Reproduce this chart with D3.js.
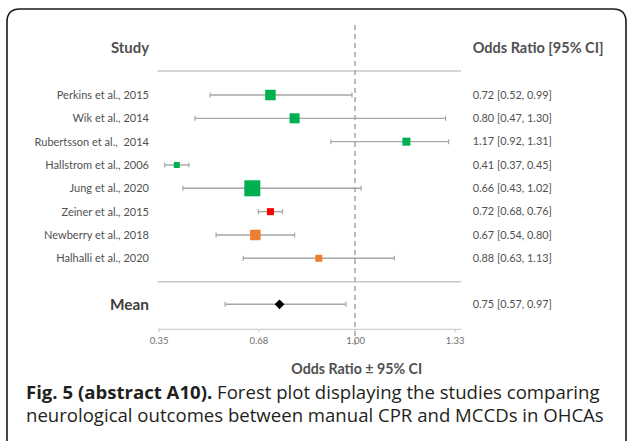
<!DOCTYPE html>
<html>
<head>
<meta charset="utf-8">
<script src="https://cdn.jsdelivr.net/npm/d3@7/dist/d3.min.js"></script>
<style>
  html, body { margin: 0; padding: 0; background: #fff; }
  svg { display: block; }
</style>
</head>
<body>
<svg id="chart" width="628" height="442"></svg>
<script>
// ---------------- data ----------------
const studies = ["Perkins et al., 2015", "Wik et al., 2014", "Rubertsson et al.,  2014",
  "Hallstrom et al., 2006", "Jung et al., 2020", "Zeiner et al., 2015",
  "Newberry et al., 2018", "Halhalli et al., 2020"];
const oddsRatio = [0.72, 0.80, 1.17, 0.41, 0.66, 0.72, 0.67, 0.88];
const ciLow     = [0.52, 0.47, 0.92, 0.37, 0.43, 0.68, 0.54, 0.63];
const ciHigh    = [0.99, 1.30, 1.31, 0.45, 1.02, 0.76, 0.80, 1.13];
const weights   = [10.5, 10, 8, 6, 16, 7, 10.5, 7];
const groups    = ["A", "A", "A", "A", "A", "B", "C", "C"];
const meanLabel = "Mean";
const meanOR = 0.75, meanLow = 0.57, meanHigh = 0.97;
const tickValues = [0.35, 0.68, 1.00, 1.33];
const tickLabels = ["0.35", "0.68", "1.00", "1.33"];

// ---------------- layout ----------------
const svg = d3.select("#chart");
const textCol = "#505050";
const lineCol = "#a6a6a6";
const chartFont = "Lato, 'Open Sans', sans-serif";
const captionFont = "'Open Sans', 'Noto Sans', sans-serif";

function fit(sel, target) {
  const node = sel.node();
  sel.attr("font-size", 10);
  const w = node.getComputedTextLength();
  sel.attr("font-size", 10 * target / w);
  return 10 * target / w;
}

// frame
svg.append("path")
  .attr("d", "M7,441 L7,22 Q7,9 20,9 L613,9 Q626,9 626,22 L626,441")
  .attr("fill", "none").attr("stroke", "#1a1a1a").attr("stroke-width", 1.6);

const x = d3.scaleLinear().domain([0.35, 1.33]).range([158.7, 454.7]);
const y = d3.scalePoint().domain(studies).range([95, 258.3]);
const yMean = 304.3;
const size = d3.scaleLinear().domain([0, 16]).range([0, 16]);
const color = d3.scaleOrdinal().domain(["A", "B", "C"]).range(["#00b050", "#ff0000", "#ed7d31"]);

// headers
const hStudy = svg.append("text").text("Study")
  .attr("x", 130).attr("y", 53).attr("text-anchor", "middle")
  .attr("font-family", chartFont).attr("font-weight", "bold").attr("fill", textCol);
fit(hStudy, 38);
const hOR = svg.append("text").text("Odds Ratio [95% CI]")
  .attr("x", 472.7).attr("y", 53)
  .attr("font-family", chartFont).attr("font-weight", "bold").attr("fill", textCol);
fit(hOR, 131);

// separators
[71, 281.7].forEach(yy => {
  svg.append("line").attr("x1", 157.7).attr("x2", 461).attr("y1", yy).attr("y2", yy)
    .attr("stroke", "#c8c8c8").attr("stroke-width", 1.5);
});

// dashed reference line at OR = 1
svg.append("line").attr("x1", x(1)).attr("x2", x(1)).attr("y1", 25).attr("y2", 348)
  .attr("stroke", lineCol).attr("stroke-width", 1.5).attr("stroke-dasharray", "5,4");

// axis
const axis = d3.axisBottom(x).tickValues(tickValues)
  .tickFormat((d, i) => tickLabels[i]).tickSize(3).tickPadding(5);
const gAxis = svg.append("g").attr("transform", `translate(0,329.3)`).call(axis);
gAxis.select(".domain").attr("stroke", "#d0d0d0").attr("stroke-width", 1.2)
  .attr("d", `M157.7,0H461.7`);
gAxis.selectAll(".tick line").attr("stroke", "#c8c8c8");
gAxis.selectAll(".tick text").attr("fill", "#707070")
  .attr("font-family", chartFont).attr("font-size", 9.5);

const axTitle = svg.append("text").text("Odds Ratio ± 95% CI")
  .attr("x", 356.7).attr("y", 374).attr("text-anchor", "middle")
  .attr("font-family", chartFont).attr("font-weight", "bold").attr("fill", textCol);
fit(axTitle, 131);

// study rows
const rows = svg.append("g").selectAll("g").data(studies).join("g");
rows.append("line")
  .attr("x1", (d, i) => x(ciLow[i])).attr("x2", (d, i) => x(ciHigh[i]))
  .attr("y1", d => y(d)).attr("y2", d => y(d))
  .attr("stroke", lineCol).attr("stroke-width", 1.4);
rows.append("line")
  .attr("x1", (d, i) => x(ciLow[i])).attr("x2", (d, i) => x(ciLow[i]))
  .attr("y1", d => y(d) - 2.5).attr("y2", d => y(d) + 2.5)
  .attr("stroke", lineCol).attr("stroke-width", 1.2);
rows.append("line")
  .attr("x1", (d, i) => x(ciHigh[i])).attr("x2", (d, i) => x(ciHigh[i]))
  .attr("y1", d => y(d) - 2.5).attr("y2", d => y(d) + 2.5)
  .attr("stroke", lineCol).attr("stroke-width", 1.2);
rows.append("rect")
  .attr("x", (d, i) => x(oddsRatio[i]) - size(weights[i]) / 2)
  .attr("y", (d, i) => y(d) - size(weights[i]) / 2)
  .attr("width", (d, i) => size(weights[i]))
  .attr("height", (d, i) => size(weights[i]))
  .attr("fill", (d, i) => color(groups[i]));
const lbl = rows.append("text").text(d => d)
  .attr("x", 149).attr("y", d => y(d)).attr("dy", "0.35em").attr("text-anchor", "end")
  .attr("font-family", chartFont).attr("fill", textCol).style("white-space", "pre");
const lblSize = fit(d3.select(lbl.nodes()[0]), 92.3);
lbl.attr("font-size", lblSize);
const ciTxt = rows.append("text")
  .text((d, i) => `${oddsRatio[i].toFixed(2)} [${ciLow[i].toFixed(2)}, ${ciHigh[i].toFixed(2)}]`)
  .attr("x", 472.7).attr("y", d => y(d)).attr("dy", "0.35em")
  .attr("font-family", chartFont).attr("fill", textCol);
const ciSize = fit(d3.select(ciTxt.nodes()[0]), 79.3);
ciTxt.attr("font-size", ciSize);

// mean row
const gm = svg.append("g");
gm.append("line").attr("x1", x(meanLow)).attr("x2", x(meanHigh))
  .attr("y1", yMean).attr("y2", yMean).attr("stroke", lineCol).attr("stroke-width", 1.4);
[meanLow, meanHigh].forEach(v => {
  gm.append("line").attr("x1", x(v)).attr("x2", x(v))
    .attr("y1", yMean - 2.5).attr("y2", yMean + 2.5)
    .attr("stroke", lineCol).attr("stroke-width", 1.2);
});
gm.append("path")
  .attr("d", d3.symbol().type(d3.symbolDiamond2).size(60)())
  .attr("transform", `translate(${x(meanOR)},${yMean})`)
  .attr("fill", "#000");
const mLbl = gm.append("text").text(meanLabel)
  .attr("x", 149).attr("y", yMean).attr("dy", "0.35em").attr("text-anchor", "end")
  .attr("font-family", chartFont).attr("font-weight", "bold").attr("fill", "#404040");
fit(mLbl, 39);
gm.append("text")
  .text(`${meanOR.toFixed(2)} [${meanLow.toFixed(2)}, ${meanHigh.toFixed(2)}]`)
  .attr("x", 472.7).attr("y", yMean).attr("dy", "0.35em")
  .attr("font-family", chartFont).attr("fill", textCol).attr("font-size", ciSize);

// caption
const cap1 = svg.append("text").attr("x", 26).attr("y", 399)
  .attr("font-family", captionFont).attr("fill", "#231f20");
cap1.append("tspan").attr("font-weight", "bold").text("Fig. 5 (abstract A10).");
cap1.append("tspan").text(" Forest plot displaying the studies comparing");
const cap2 = svg.append("text").attr("x", 26).attr("y", 422)
  .attr("font-family", captionFont).attr("fill", "#231f20")
  .text("neurological outcomes between manual CPR and MCCDs in OHCAs");
const capSize = fit(cap2, 578);
cap1.attr("font-size", capSize);
</script>
</body>
</html>
